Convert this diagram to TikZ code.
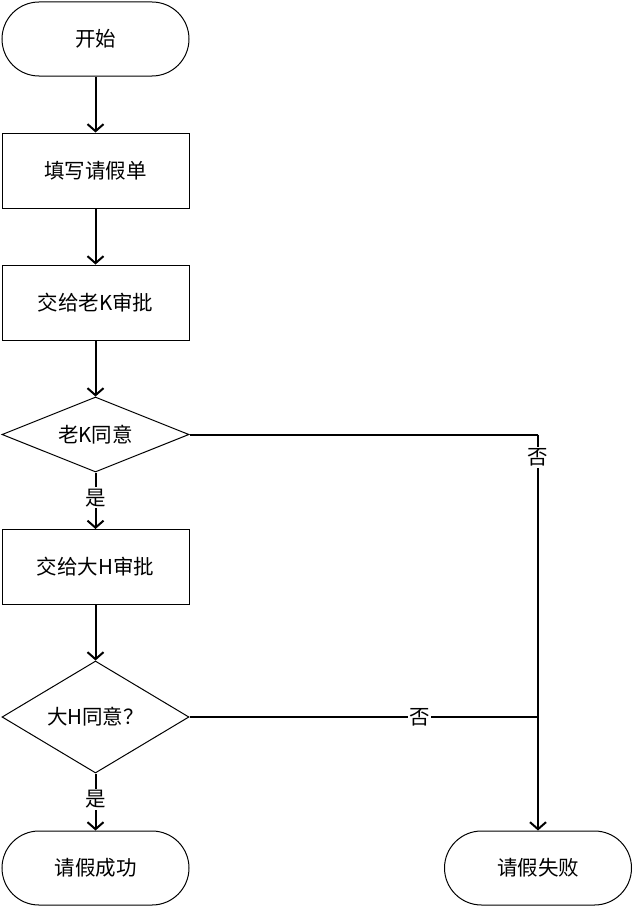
\documentclass[tikz,border=0pt]{standalone}
\usepackage{fontspec}
\setmainfont{Noto Sans CJK SC}
\usetikzlibrary{shapes.geometric,arrows.meta}
\begin{document}
\begin{tikzpicture}[x=1pt,y=-1pt,
  every node/.style={font=\fontsize{20.5}{24}\selectfont},
  term/.style={draw, line width=1pt, rounded corners=37pt, minimum width=187pt, minimum height=74pt, inner sep=0pt},
  proc/.style={draw, line width=1pt, minimum width=187pt, minimum height=75pt, inner sep=0pt},
  decide/.style={draw, diamond, line width=1pt, minimum width=187pt, inner sep=0pt},
  conn/.style={line width=2pt, -{Straight Barb[length=7pt,width=16pt,line width=2pt]}},
  plain/.style={line width=2pt},
  lbl/.style={fill=white, inner sep=1.5pt}
]
\useasboundingbox (0,0) rectangle (634,907);
\node[term] (start) at (95.5,39) {开始};
\node[proc] (fill) at (95.5,170.5) {填写请假单};
\node[proc] (k) at (95.5,302.5) {交给老K审批};
\node[decide, aspect=2.49, minimum height=75pt] (dk) at (95.5,434.5) {老K同意};
\node[proc] (h) at (95.5,567) {交给大H审批};
\node[decide, aspect=1.67, minimum height=112pt] (dh) at (95.5,717) {大H同意？};
\node[term] (ok) at (95.5,868) {请假成功};
\node[term] (fail) at (538,868) {请假失败};
\coordinate (c1) at (538,434.5);
\coordinate (j2) at (538,717);

\draw[conn] (start) -- (fill);
\draw[conn] (fill) -- (k);
\draw[conn] (k) -- (dk);
\draw[conn] (dk) -- node[lbl, pos=0.45] {是} (h);
\draw[conn] (h) -- (dh);
\draw[conn] (dh) -- node[lbl, pos=0.45] {是} (ok);
\draw[plain] (dk.east) -- (c1);
\draw[conn] (c1) -- node[lbl, pos=0.058] {否} (fail.north);
\draw[plain] (dh.east) -- node[lbl, pos=0.66] {否} (j2);
\end{tikzpicture}
\end{document}
